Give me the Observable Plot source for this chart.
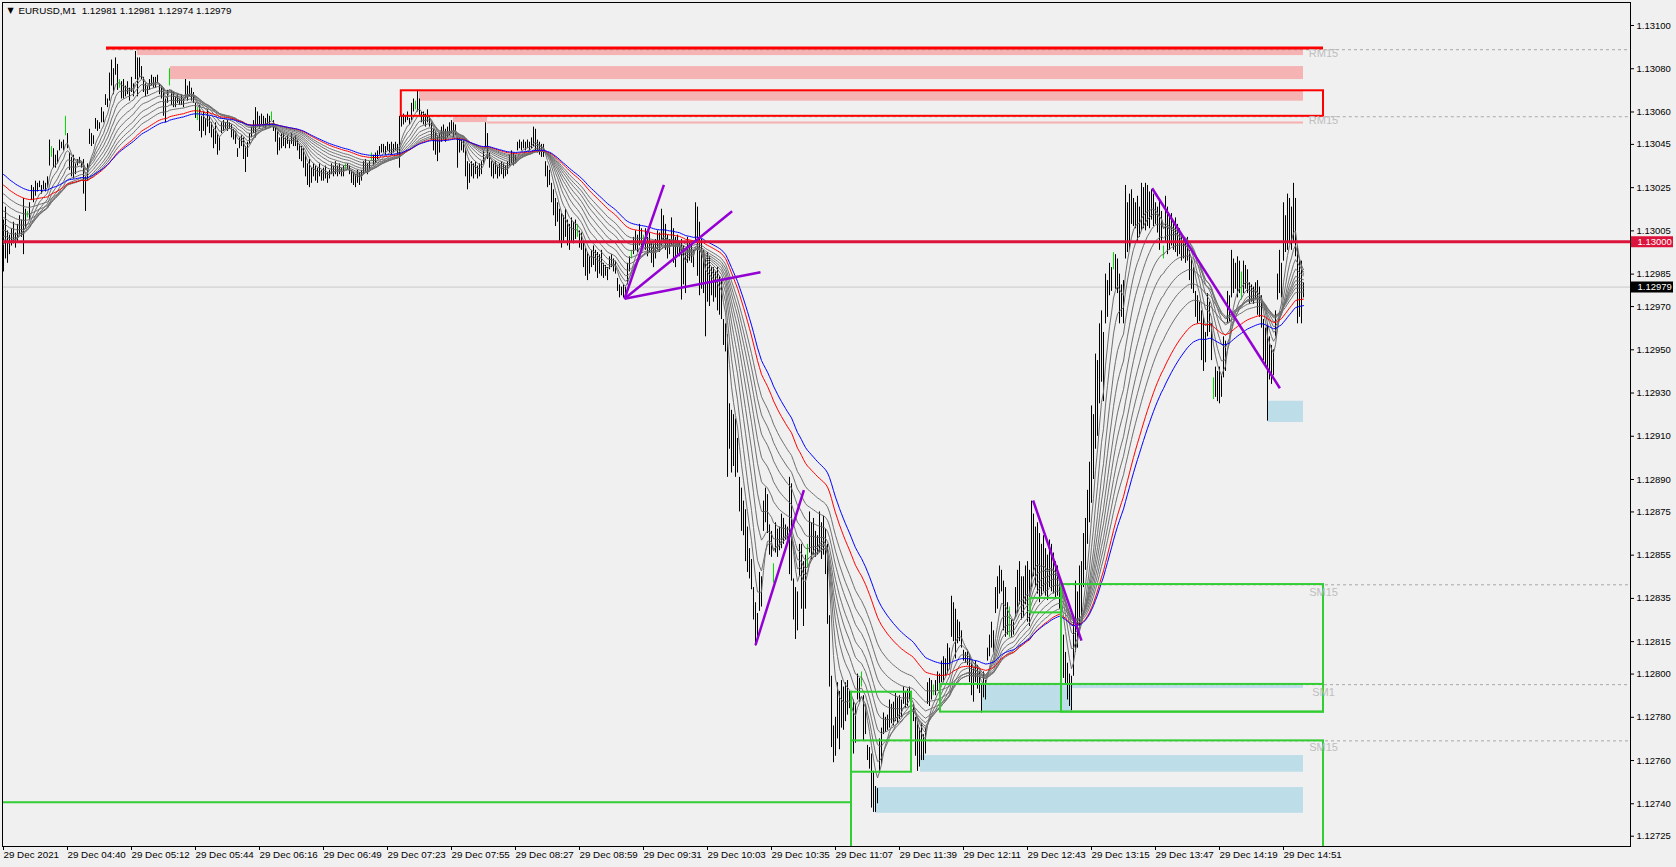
<!DOCTYPE html>
<html><head><meta charset="utf-8">
<script src="https://cdn.jsdelivr.net/npm/d3@7"></script>
<script src="https://cdn.jsdelivr.net/npm/@observablehq/plot@0.6"></script>
<style>html,body{margin:0;padding:0;background:#F0F0F0;overflow:hidden}</style>
</head><body><div id="chart"></div>
<script>
// Prices are stored in points (0.00001) above BASE = 1.12700, one entry per M1 bar.
const BASE = 1.127, PT = 0.00001;
const high = [
310,316,305,303,306,309,304,308,312,310,
320,315,314,318,326,325,328,327,328,326,
328,327,330,347,344,343,340,342,347,346,
347,358,350,341,339,340,336,338,339,337,
338,330,336,352,350,349,357,356,355,362,
360,368,366,378,384,380,385,382,375,374,
375,372,374,371,376,373,388,385,385,381,
376,373,372,375,377,376,376,377,373,372,
371,366,370,380,370,369,367,368,366,368,
366,375,372,374,371,369,364,362,363,358,
360,357,361,358,355,352,355,350,348,355,
356,355,356,355,354,352,351,343,348,349,
348,344,346,350,353,356,362,360,358,359,
358,357,359,358,360,356,353,351,348,350,
350,348,349,347,350,348,349,347,345,344,
343,340,336,338,334,336,335,334,336,333,
334,335,332,333,336,335,337,335,336,334,
335,336,336,335,333,332,331,333,332,333,
337,338,336,337,341,340,341,342,344,345,
345,344,346,345,346,345,346,345,358,358,
359,358,360,357,364,366,365,370,366,360,
360,359,361,358,355,352,351,349,350,353,
354,352,353,355,356,355,354,348,348,347,
347,343,337,336,337,336,337,335,336,337,
342,355,350,341,337,336,337,335,336,337,
336,335,337,340,342,341,340,346,347,346,
347,346,347,346,348,353,352,347,346,345,
345,337,335,333,327,324,320,318,315,313,
312,315,310,308,311,309,310,308,305,304,
300,297,295,293,296,298,296,295,294,296,
290,289,288,293,294,292,291,283,280,279,
280,279,290,293,296,302,305,303,308,306,
303,306,302,304,300,299,301,305,304,315,
312,308,303,301,311,306,302,303,300,301,
298,295,302,300,299,296,318,316,309,301,
296,292,295,293,288,288,286,288,284,282,
264,262,257,225,222,220,218,209,191,186,
180,176,168,158,153,140,133,128,147,145,
180,186,183,169,166,151,170,167,168,174,
172,169,168,191,188,144,140,138,160,160,
152,155,160,175,170,172,166,164,175,170,
173,167,160,127,99,76,80,96,92,97,
94,96,97,92,92,88,86,100,98,101,
90,86,67,66,63,55,48,47,70,75,
82,80,81,88,86,87,91,89,90,88,
94,92,93,94,92,86,80,78,75,77,
72,75,96,98,97,95,97,101,100,106,
108,107,114,112,136,133,130,125,124,120,
111,110,111,109,105,103,106,104,101,95,
101,97,112,118,124,120,140,145,150,148,
143,140,133,131,125,124,140,148,152,145,
145,150,152,148,180,174,168,170,165,160,
164,158,155,162,160,156,152,150,145,122,
118,110,105,100,99,125,143,138,150,152,
165,172,185,198,224,220,248,245,262,268,
258,285,282,290,288,295,294,292,285,280,
282,326,318,322,324,320,318,321,316,327,
325,327,326,323,324,322,318,316,319,314,
298,321,316,312,313,309,311,308,306,302,
301,300,302,296,292,288,277,275,272,268,
265,258,276,272,262,237,242,240,242,238,
256,254,277,275,296,292,290,293,291,286,
291,289,287,281,280,279,281,282,279,275,
264,260,262,256,252,250,268,285,296,290,
318,312,322,320,316,327,320,298,292,291,281];
const low = [
286,292,290,294,298,299,297,300,303,302,
294,306,311,310,319,318,321,323,325,322,
324,323,325,335,339,334,334,336,342,343,
342,349,343,333,330,329,331,335,336,334,
322,314,328,345,344,345,352,351,352,355,
355,363,362,365,372,368,377,370,371,366,
366,367,368,365,369,367,375,367,376,375,
369,367,368,370,372,371,371,373,368,366,
358,355,364,372,363,362,362,364,363,363,
362,366,365,367,365,364,357,356,351,348,
351,349,353,350,348,343,345,340,342,350,
351,352,351,352,348,347,345,339,343,344,
338,332,339,345,348,350,348,353,352,354,
353,352,354,353,356,351,346,340,342,343,
344,343,345,343,345,344,344,342,338,337,
334,330,326,325,327,330,328,327,330,328,
328,329,327,329,331,330,331,330,331,330,
330,333,333,331,327,326,325,327,326,328,
331,332,331,333,337,335,336,338,340,341,
341,340,342,341,340,341,342,340,334,353,
354,355,356,354,356,360,361,360,358,355,
354,353,355,353,347,342,340,337,341,346,
347,346,348,349,350,348,349,334,341,342,
341,330,324,327,330,329,331,329,330,331,
336,343,338,334,330,329,331,329,330,331,
329,330,331,335,336,335,336,342,343,342,
343,342,343,342,343,344,342,341,340,339,
339,330,325,326,318,312,307,309,300,297,
300,302,298,296,300,299,301,302,297,296,
288,284,282,285,288,289,286,283,285,284,
283,284,282,287,288,286,285,277,274,275,
274,275,280,286,292,294,296,295,298,297,
300,296,293,295,290,288,292,296,295,298,
300,296,292,294,298,290,288,294,293,273,
280,276,290,291,290,288,300,284,275,278,
276,256,272,270,275,272,274,268,266,264,
252,249,191,204,193,196,191,193,175,166,
164,152,147,144,139,125,113,116,129,131,
166,170,165,155,154,142,156,154,157,158,
160,162,162,146,143,125,116,120,145,130,
122,130,149,156,153,155,154,155,156,153,
155,146,123,94,66,59,62,70,65,75,
74,78,81,84,66,63,68,88,87,94,
69,72,60,56,38,36,36,40,54,58,
72,73,74,75,77,76,78,77,79,80,
86,84,85,88,87,78,62,55,57,60,
60,63,86,85,88,90,90,92,91,96,
96,99,100,102,117,115,107,114,115,112,
106,105,104,96,90,87,96,93,91,82,
89,88,106,108,112,110,128,130,137,138,
120,117,118,117,117,118,126,128,132,125,
126,132,124,122,140,145,140,137,133,136,
138,136,134,140,138,137,135,136,130,100,
98,95,88,85,83,99,110,112,120,125,
140,148,160,170,179,190,204,210,225,235,
226,262,265,275,277,287,278,276,262,265,
262,292,295,296,308,307,306,300,302,305,
306,305,307,306,310,307,308,304,296,300,
292,300,294,296,298,296,295,293,294,291,
292,290,291,282,278,276,265,262,263,245,
240,244,256,258,245,227,228,226,225,228,
237,240,262,263,274,276,278,274,276,273,
276,278,276,271,272,271,273,266,265,260,
245,242,217,236,234,238,256,273,276,274,
291,295,296,299,296,300,293,262,265,262,274];
// bars drawn in green (bar index)
const greenBars = [12,24,31,58,83,97,134,171,184,206,287,314,320,385,402,429,465,503,555,580,605,619];

// time axis: bar index of each label and its text
const xTickIdx = [0,32,64,96,128,160,192,224,256,288,320,352,384,416,448,480,512,544,576,608,640];
const xTickLabels = ["29 Dec 2021","29 Dec 04:40","29 Dec 05:12","29 Dec 05:44","29 Dec 06:16","29 Dec 06:49",
  "29 Dec 07:23","29 Dec 07:55","29 Dec 08:27","29 Dec 08:59","29 Dec 09:31","29 Dec 10:03","29 Dec 10:35",
  "29 Dec 11:07","29 Dec 11:39","29 Dec 12:11","29 Dec 12:43","29 Dec 13:15","29 Dec 13:47","29 Dec 14:19","29 Dec 14:51"];
// price axis labels
const yTicks = [1.13100,1.13080,1.13060,1.13045,1.13025,1.13005,1.12985,1.12970,1.12950,1.12930,1.12910,
  1.12890,1.12875,1.12855,1.12835,1.12815,1.12800,1.12780,1.12760,1.12740,1.12725];
const currentPrice = 1.12979;
const roundLevel = 1.13000;
const header = "EURUSD,M1  1.12981 1.12981 1.12974 1.12979";

// moving-average periods of the ribbon, and each line's level at the left edge (pts)
const maGray = [6, 10, 15, 20, 26, 32, 39, 46, 54];
const maGrayStart = [299, 301, 303, 306, 309, 312, 315, 319, 323];
const maRed = 66, maRedStart = 327;
const maBlue = 75, maBlueStart = 332;

// zones: [startBar, endBar, lowPts, highPts]
const pinkZones = [[67,650,386.1,389.2],[83.5,650,375.0,381.0],[208,650,365.0,369.5],[225,242,355.1,357.9],[242,650,354.4,355.4]];
const blueZones = [[489.3,534.3,82.4,95.2],[534.3,650,93.3,95.2],[458.5,650,54.6,62.3],[436,650,35.6,47.5],[632.5,650,216.4,226.2]];
const greenBoxes = [[529,660,82.4,141.4],[468.5,660,82.4,95.2],[513.5,529,128.3,135.0],[424,454,54.6,91.6],[424,660,5,69.1]];
const greenLines = [[-2,424,40.7]];
const redBoxes = [[198.9,660,358.0,369.8]];
const redLines = [[51.5,660,389.6]];
// dashed zone levels: [startBar, pts]
const dashedLevels = [[51.5,388.8],[198.9,357.8],[529,141.3],[468.5,95.1],[424,69.1]];
// zone labels: [text, bar, pts]
const zoneLabels = [["RM15",660,387.0],["RM15",660,356.1],["SM15",660,137.7],["SM1",660,91.6],["SM15",660,66.0]];
// trend lines: [bar1, pts1, bar2, pts2]
const trendLines = [[310.5,273.6,330.2,326.3],[310.5,273.6,364.3,314.1],[310.5,273.6,378.5,285.9],
  [376,113.4,400.2,185.1],[514.8,180.3,539,115.5],[574.3,324.7,638.2,232.2]];

const px = v => BASE + v * PT;
const bars = high.map((h, i) => ({i, high: px(h), low: px(low[i]), mid: px((h + low[i]) / 2), green: greenBars.includes(i)}));
const X0 = -0.5, X_END = 813.5;
// exponential weighting over the window; history before the first bar is taken at the line's starting level
const ema = (n, start) => {
  const a = 2 / (n + 1), k = 3 * n, s0 = px(start);
  return v => {
    let s = 0, ws = 0, w = 1;
    for (let j = v.length - 1; j >= 0; j--) { s += v[j] * w; ws += w; w *= 1 - a; }
    if (v.length < k) { s += s0 * w / a; ws += w / a; }
    return s / ws;
  };
};
const maLine = (n, start, color) => Plot.lineY(bars, Plot.windowY({k: 3 * n, anchor: "end", reduce: ema(n, start)}, {x: "i", y: "mid", stroke: color, strokeWidth: 1}));
const zoneRect = (data, opts) => Plot.rect(data, {x1: d => d[0], x2: d => d[1], y1: d => px(d[2]), y2: d => px(d[3]), ...opts});

const chart = Plot.plot({
  width: 1676, height: 867,
  marginLeft: 2, marginRight: 46, marginTop: 2, marginBottom: 21,
  x: {type: "linear", domain: [X0, X_END], axis: null},
  y: {type: "linear", domain: [1.1272024, 1.1311064], axis: null},
  style: {fontFamily: "'Liberation Sans', Arial, sans-serif", fontSize: "9.5px", background: "#F0F0F0", color: "#000"},
  marks: [
    zoneRect(pinkZones, {fill: "#F5B3B3"}),
    zoneRect(blueZones, {fill: "#BDDDE9"}),
    Plot.ruleY([currentPrice], {y: d => d, stroke: "#C8C8C8", strokeWidth: 1}),
    Plot.ruleY(dashedLevels, {x1: d => d[0], x2: X_END, y: d => px(d[1]), stroke: "#A8A8A8", strokeDasharray: "3,3"}),
    Plot.ruleX(bars.filter(d => !d.green), {x: "i", y1: "low", y2: "high", stroke: "#000", strokeWidth: 1}),
    Plot.ruleX(bars.filter(d => d.green), {x: "i", y1: "low", y2: "high", stroke: "#00E000", strokeWidth: 1}),
    ...maGray.map((n, j) => maLine(n, maGrayStart[j], "#6E6E6E")),
    maLine(maRed, maRedStart, "#FF0000"),
    maLine(maBlue, maBlueStart, "#0000FF"),
    zoneRect(greenBoxes, {fill: "none", stroke: "#32CD32", strokeWidth: 2, clip: true}),
    Plot.ruleY(greenLines, {x1: d => d[0], x2: d => d[1], y: d => px(d[2]), stroke: "#32CD32", strokeWidth: 2, clip: true}),
    zoneRect(redBoxes, {fill: "none", stroke: "#FF0000", strokeWidth: 2}),
    Plot.ruleY(redLines, {x1: d => d[0], x2: d => d[1], y: d => px(d[2]), stroke: "#FF0000", strokeWidth: 3}),
    Plot.ruleY([roundLevel], {y: d => d, stroke: "#DC143C", strokeWidth: 3}),
    Plot.link(trendLines, {x1: d => d[0], y1: d => px(d[1]), x2: d => d[2], y2: d => px(d[3]), stroke: "#9400D3", strokeWidth: 2.5}),
    Plot.text(zoneLabels, {x: d => d[1], y: d => px(d[2]), text: d => d[0], fill: "#BEBEBE", fontSize: 11, textAnchor: "middle"}),
    Plot.frame({stroke: "#000"}),
    Plot.axisY({anchor: "right", ticks: yTicks, tickFormat: d => d.toFixed(5), tickSize: 3, tickPadding: 3, fontSize: 9.5, label: null}),
    Plot.axisX({anchor: "bottom", ticks: xTickIdx, tickFormat: d => xTickLabels[xTickIdx.indexOf(d)], tickSize: 4, tickPadding: 1, textAnchor: "start", fontSize: 9.8, label: null}),
    Plot.ruleY([roundLevel], {y: d => d, x1: X_END + 0.5, x2: X_END + 21.5, stroke: "#DC143C", strokeWidth: 11}),
    Plot.text([roundLevel], {y: d => d, text: d => d.toFixed(5), frameAnchor: "right", dx: 7, textAnchor: "start", fill: "#FFFFFF", fontSize: 9.5}),
    Plot.ruleY([currentPrice], {y: d => d, x1: X_END + 0.5, x2: X_END + 21.5, stroke: "#000", strokeWidth: 11}),
    Plot.text([currentPrice], {y: d => d, text: d => d.toFixed(5), frameAnchor: "right", dx: 7, textAnchor: "start", fill: "#FFFFFF", fontSize: 9.5}),
    Plot.text(["\u25BC"], {text: d => d, frameAnchor: "top-left", dx: 8, dy: 8, textAnchor: "middle", lineAnchor: "middle", fontSize: 8, fontFamily: "DejaVu Sans"}),
    Plot.text([header], {text: d => d, frameAnchor: "top-left", dx: 16, dy: 8, textAnchor: "start", lineAnchor: "middle", fontSize: 9.8})
  ]
});
document.getElementById("chart").appendChild(chart);
</script>
</body></html>
